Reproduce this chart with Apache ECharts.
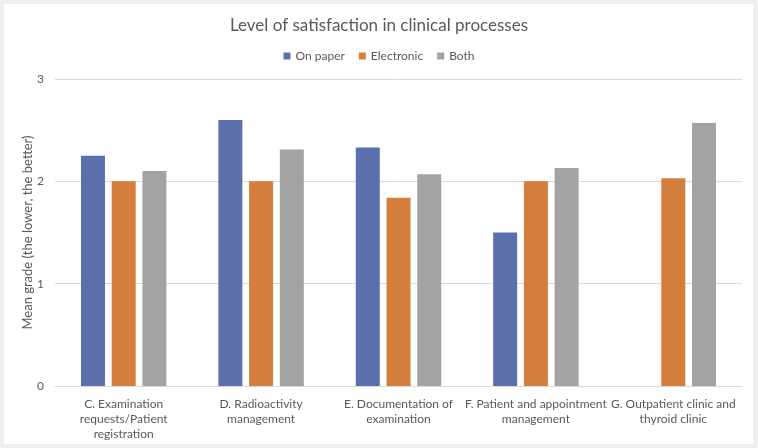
<!DOCTYPE html>
<html>
<head>
<meta charset="utf-8">
<script src="https://cdn.jsdelivr.net/npm/echarts@6/dist/echarts.min.js"></script>
<style>
  html, body { margin: 0; padding: 0; background: #efefef; }
  #wrap { position: absolute; left: 0; top: 0; width: 758px; height: 448px; background: #efefef; }
  #panel { position: absolute; left: 4px; top: 4px; width: 749px; height: 440px; background: #ffffff; }
  #chart { position: absolute; left: 0; top: 0; width: 758px; height: 448px; }
</style>
</head>
<body>
<div id="wrap"><div id="panel"></div><div id="chart"></div></div>
<script>
const categories = [
  "C. Examination\nrequests/Patient\nregistration",
  "D. Radioactivity\nmanagement",
  "E. Documentation of\nexamination",
  "F. Patient and appointment\nmanagement",
  "G. Outpatient clinic and\nthyroid clinic"
];
const seriesNames = ["On paper", "Electronic", "Both"];
const onPaper = [2.25, 2.6, 2.33, 1.5, null];
const electronic = [2.0, 2.0, 1.84, 2.0, 2.03];
const both = [2.1, 2.31, 2.07, 2.13, 2.57];
const yTicks = { min: 0, max: 3, interval: 1 };

const colors = ["#5B6FAD", "#D37E3C", "#A3A3A2"];
const font = "Lato, 'Open Sans', sans-serif";
const txt = "#595959";

const chart = echarts.init(document.getElementById('chart'), null, { renderer: 'canvas' });
chart.setOption({
  backgroundColor: 'transparent',
  animation: false,
  color: colors,
  title: {
    text: "Level of satisfaction in clinical processes",
    left: 'center', top: 12,
    textStyle: { fontFamily: font, fontSize: 17, fontWeight: 'normal', color: txt }
  },
  legend: {
    top: 45, left: 'center',
    itemWidth: 7, itemHeight: 7, itemGap: 14,
    icon: 'rect',
    textStyle: { fontFamily: font, fontSize: 12, color: txt },
    data: seriesNames
  },
  grid: { left: 55, right: 16, top: 79, bottom: 62, containLabel: false },
  xAxis: {
    type: 'category',
    data: categories,
    axisLine: { lineStyle: { color: '#d9d9d9' } },
    axisTick: { show: false },
    axisLabel: { fontFamily: font, fontSize: 12, color: txt, lineHeight: 15, margin: 11, interval: 0 }
  },
  yAxis: {
    type: 'value',
    min: yTicks.min, max: yTicks.max, interval: yTicks.interval,
    name: "Mean grade (the lower, the better)",
    nameLocation: 'middle', nameRotate: 90, nameGap: 27,
    nameMoveOverlap: false,
    nameTextStyle: { fontFamily: font, fontSize: 13, color: txt, verticalAlign: 'middle' },
    axisLine: { show: false },
    axisTick: { show: false },
    splitLine: { lineStyle: { color: '#d9d9d9' } },
    axisLabel: { fontFamily: font, fontSize: 12, color: txt, margin: 11 }
  },
  series: [
    { name: seriesNames[0], type: 'bar', data: onPaper, barWidth: 24, barGap: '28%' },
    { name: seriesNames[1], type: 'bar', data: electronic, barWidth: 24, barGap: '28%' },
    { name: seriesNames[2], type: 'bar', data: both, barWidth: 24, barGap: '28%' }
  ]
});
</script>
</body>
</html>
